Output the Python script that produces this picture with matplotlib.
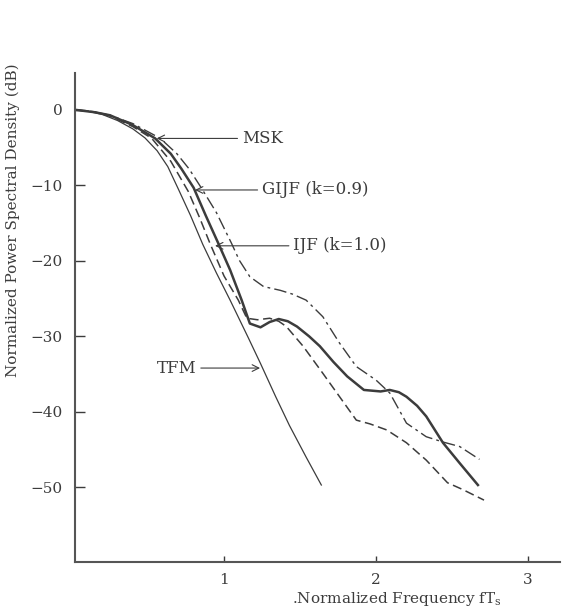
import matplotlib
matplotlib.use("Agg")
import matplotlib.pyplot as plt

plt.rcParams['font.family'] = ['DejaVu Serif']
plt.rcParams['mathtext.fontset'] = 'dejavuserif'

# TFM (thin solid)
tfm_x = [0.03, 0.1, 0.2, 0.3, 0.4, 0.48, 0.56, 0.63, 0.70, 0.78, 0.86, 0.95, 1.04,
         1.16, 1.24, 1.34, 1.43, 1.54, 1.64]
tfm_y = [0, -0.15, -0.6, -1.4, -2.5, -3.7, -5.4, -7.5, -10.5, -14.0, -17.8, -21.6, -25.2,
         -30.2, -33.6, -38.0, -41.8, -46.0, -49.7]

# GIJF k=0.9 (thick solid)
gijf_x = [0.03, 0.15, 0.25, 0.4, 0.546, 0.65, 0.72, 0.80, 0.88, 0.963, 1.04, 1.116,
          1.17, 1.24, 1.30, 1.36, 1.42, 1.48, 1.56, 1.63, 1.72, 1.81, 1.92, 2.03,
          2.09, 2.15, 2.20, 2.27, 2.33, 2.44, 2.55, 2.67]
gijf_y = [0, -0.3, -0.7, -2.0, -3.75, -5.8, -7.8, -10.3, -14.0, -17.7, -21.2, -25.2,
          -28.3, -28.8, -28.1, -27.7, -28.0, -28.7, -30.0, -31.3, -33.4, -35.3, -37.1, -37.3,
          -37.1, -37.4, -38.0, -39.2, -40.6, -44.1, -46.8, -49.7]

# IJF k=1.0 (dashed)
ijf_x = [0.03, 0.15, 0.25, 0.4, 0.524, 0.65, 0.765, 0.84, 0.908, 1.0, 1.094, 1.15,
         1.22, 1.30, 1.36, 1.41, 1.52, 1.65, 1.76, 1.87, 1.96, 2.07, 2.20, 2.33,
         2.47, 2.57, 2.71]
ijf_y = [0, -0.25, -0.8, -2.2, -3.75, -6.8, -10.8, -14.3, -17.7, -22.0, -25.2, -27.6,
         -27.8, -27.6, -28.0, -28.7, -31.3, -34.9, -38.0, -41.1, -41.6, -42.4, -44.1, -46.4,
         -49.4, -50.3, -51.7]

# MSK (dash-dot)
msk_x = [0.03, 0.15, 0.25, 0.4, 0.58, 0.69, 0.77, 0.853, 0.95, 1.05, 1.10, 1.17,
         1.26, 1.37, 1.45, 1.54, 1.65, 1.76, 1.87, 2.0, 2.09, 2.20, 2.33, 2.44,
         2.55, 2.68]
msk_y = [0, -0.25, -0.7, -1.8, -3.75, -5.8, -7.8, -10.4, -13.6, -17.7, -19.9, -22.1,
         -23.4, -23.9, -24.4, -25.2, -27.4, -30.9, -34.0, -35.8, -37.5, -41.5, -43.3, -44.0,
         -44.6, -46.3]

xticks = [1, 2, 3]
yticks = [0, -10, -20, -30, -40, -50]

ink = '#3c3c3c'

fig = plt.figure(figsize=(5.62, 6.14), dpi=100)
ax = fig.add_axes([0.1335, 0.0847, 0.863, 0.7964])

ax.plot(tfm_x, tfm_y, color=ink, lw=0.9)
ax.plot(gijf_x, gijf_y, color=ink, lw=1.8)
ax.plot(ijf_x, ijf_y, color=ink, lw=1.1, dashes=(6, 3))
ax.plot(msk_x, msk_y, color=ink, lw=1.0, dashes=(9, 3, 2, 3))

arrow = dict(arrowstyle='->', color=ink, lw=0.8, shrinkA=1, shrinkB=0)
ax.annotate('MSK', xy=(0.557, -3.77), xytext=(1.116, -3.77), ha='left', va='center',
            fontsize=12, color=ink, arrowprops=arrow)
ax.annotate('GIJF (k=0.9)', xy=(0.809, -10.6), xytext=(1.248, -10.6), ha='left', va='center',
            fontsize=12, color=ink, arrowprops=arrow)
ax.annotate('IJF (k=1.0)', xy=(0.941, -18.0), xytext=(1.454, -18.0), ha='left', va='center',
            fontsize=12, color=ink, arrowprops=arrow)
ax.annotate('TFM', xy=(1.237, -34.2), xytext=(0.82, -34.2), ha='right', va='center',
            fontsize=12, color=ink, arrowprops=arrow)

ax.set_xlim(0.02, 3.21)
ax.set_ylim(-59.9, 4.9)
ax.set_xticks(xticks)
ax.set_yticks(yticks)
ax.tick_params(axis='y', direction='in', length=7, width=1, pad=9, labelsize=11, colors=ink)
ax.tick_params(axis='x', direction='in', length=4, width=1, pad=8, labelsize=11, colors=ink)

for side in ['top', 'right']:
    ax.spines[side].set_visible(False)
for side in ['left', 'bottom']:
    ax.spines[side].set_color('#555555')
    ax.spines[side].set_linewidth(1.5)

ax.set_ylabel('Normalized Power Spectral Density (dB)', fontsize=11, color=ink)
ax.yaxis.set_label_coords(-0.113, 0.70)
ax.set_xlabel('.Normalized Frequency fT$_\\mathrm{s}$', fontsize=11, color=ink)
ax.xaxis.set_label_coords(0.664, -0.058)

fig.savefig('out.png', dpi=100)
